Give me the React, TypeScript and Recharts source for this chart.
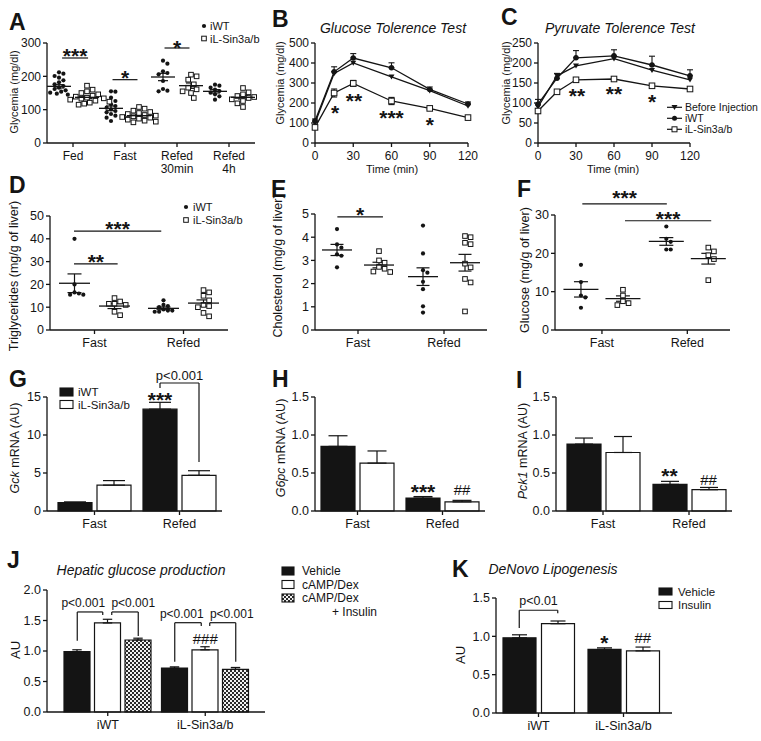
import React from "react";
import {
  Bar,
  ComposedChart,
  ErrorBar,
  Line,
  ReferenceDot,
  ReferenceLine,
  Scatter,
  XAxis,
  YAxis,
} from "recharts";

const W = 761;
const H = 741;
const FONT = "Arial, 'Liberation Sans', Helvetica, sans-serif";
const INK = "#141414";
const YW = 40;
const XH = 34;

// ---------- A: glycemia by feeding state (mg/dl), one value per mouse ----------
const glyStates = ["Fed", "Fast", "Refed\n30min", "Refed\n4h"];
const glyWT = [
  [212, 208, 201, 196, 188, 182, 176, 171, 166, 162, 158, 154, 151, 148, 145],
  [155, 154, 136, 126, 116, 111, 106, 101, 96, 92, 87, 82, 76, 66],
  [247, 238, 215, 210, 206, 186, 162, 157, 155],
  [175, 172, 166, 160, 156, 151, 146, 140, 130],
];
const glyKO = [
  [172, 160, 155, 150, 146, 142, 139, 136, 133, 130, 127, 124, 121, 118, 115, 134],
  [108, 103, 97, 93, 90, 87, 84, 82, 80, 78, 76, 73, 70, 67, 64, 62],
  [205, 200, 190, 176, 166, 161, 155, 150, 135],
  [165, 152, 146, 141, 138, 135, 131, 126, 119, 108],
];
const glyWTMean = [170, 104, 198, 155];
const glyWTSem = [5, 7, 11, 5];
const glyKOMean = [137, 82, 172, 137];
const glyKOSem = [4, 3, 8, 5];

// ---------- B / C: tolerance tests ----------
const minutes = [0, 15, 30, 60, 90, 120];
const gttBefore = [100, 348, 400, 331, 262, 185];
const gttWT = [110, 356, 425, 376, 268, 195];
const gttWTErr = [10, 25, 22, 25, 12, 10];
const gttKO = [78, 250, 298, 210, 173, 127];
const gttKOErr = [8, 20, 15, 18, 6, 5];

const pttBefore = [90, 168, 193, 211, 182, 158];
const pttWT = [97, 162, 213, 218, 195, 168];
const pttWTErr = [12, 12, 18, 15, 22, 15];
const pttKO = [80, 128, 158, 160, 143, 135];
const pttKOErr = [6, 5, 5, 3, 3, 3];

// ---------- D / E / F: liver metabolites ----------
const feedStates = ["Fast", "Refed"];
const tgWT = [[40, 20, 16.5, 16, 15.5, 15.5], [13, 11, 10.5, 10, 9, 8.5, 8, 8, 8.5]];
const tgKO = [[14, 12.5, 11.5, 11, 11.5, 8, 6.5], [17.5, 16.5, 15, 13, 11, 10.5, 10, 7.5, 6]];
const tgWTMean = [20.5, 9.5];
const tgWTSem = [4.1, 0.6];
const tgKOMean = [10.5, 11.8];
const tgKOSem = [1.1, 1.4];

const cholWT = [[4.35, 3.69, 3.55, 3.26, 3.2, 2.7], [4.5, 3.3, 2.58, 2.47, 2.08, 1.76, 1.02, 0.75]];
const cholKO = [[3.4, 3.0, 2.9, 2.64, 2.52, 2.5, 2.72], [4.05, 4.0, 3.76, 3.7, 2.86, 2.7, 2.2, 2.05, 0.8]];
const cholWTMean = [3.45, 2.3];
const cholWTSem = [0.24, 0.38];
const cholKOMean = [2.8, 2.9];
const cholKOSem = [0.12, 0.36];

const glcWT = [[17, 12.5, 9, 8.5, 5.8], [27, 23.8, 23, 21, 21]];
const glcKO = [[10.5, 9, 7.5, 7, 6.5], [21.5, 20.5, 19.5, 18.5, 13]];
const glcWTMean = [10.6, 23.1];
const glcWTSem = [2, 1];
const glcKOMean = [8.2, 18.6];
const glcKOSem = [0.7, 1.4];

// ---------- G / H / I: mRNA (AU) ----------
const gckWT = [1.1, 13.4];
const gckWTErr = [0.1, 0.9];
const gckKO = [3.4, 4.7];
const gckKOErr = [0.6, 0.6];

const g6pcWT = [0.85, 0.17];
const g6pcWTErr = [0.14, 0.02];
const g6pcKO = [0.63, 0.12];
const g6pcKOErr = [0.16, 0.02];

const pck1WT = [0.88, 0.35];
const pck1WTErr = [0.08, 0.04];
const pck1KO = [0.77, 0.28];
const pck1KOErr = [0.21, 0.03];

// ---------- J / K ----------
const genotypes = ["iWT", "iL-Sin3a/b"];
const hgpVehicle = [0.99, 0.72];
const hgpVehicleErr = [0.03, 0.02];
const hgpCamp = [1.46, 1.02];
const hgpCampErr = [0.06, 0.05];
const hgpCampIns = [1.18, 0.7];
const hgpCampInsErr = [0.03, 0.03];

const dnlVehicle = [0.98, 0.83];
const dnlVehicleErr = [0.04, 0.02];
const dnlInsulin = [1.165, 0.81];
const dnlInsulinErr = [0.035, 0.05];

// ---------------------------------------------------------------------------

type Box = { x0: number; x1: number; y0: number; y1: number };
type Note = { x: number | string; dx?: number; y: number; text: string; fs: number; kind: "star" | "hash" | "p" };
type Pad = { left: number; right: number };
// bracket inside one category: points are [pixel offset from the group centre, value]
type Bracket = { cat: string; pts: [number, number][] };

const layer: React.CSSProperties = { position: "absolute", left: 0, top: 0 };

const frame = (b: Box) => ({
  top: b.y0,
  left: b.x0 - YW,
  right: W - b.x1,
  bottom: H - b.y1 - XH,
});

const axisLine = { stroke: INK, strokeWidth: 1.3 };
const tickFont = (fs: number) => ({ fill: INK, fontSize: fs, fontFamily: FONT });
const oneDec = (v: number) => v.toFixed(1);
const STAR = 21;

const dotMark = (cx: number, cy: number, k?: React.Key) => (
  <circle key={k} cx={cx} cy={cy} r={2.1} fill={INK} />
);
const squareMark = (cx: number, cy: number, k?: React.Key, s = 4.6) => (
  <rect key={k} x={cx - s / 2} y={cy - s / 2} width={s} height={s} fill="#fff" stroke={INK} strokeWidth={1} />
);
const triMark = (cx: number, cy: number, k?: React.Key) => (
  <path key={k} d={`M${cx - 3},${cy - 2.2}L${cx + 3},${cy - 2.2}L${cx},${cy + 2.8}Z`} fill={INK} />
);

// beeswarm spread so overlapping points sit side by side
function swarm(vals: number[], cx: number, pxX: number, pxY: number, gap: number) {
  const order = vals.map((_, i) => i).sort((a, b) => vals[b] - vals[a]);
  const placed: { dx: number; py: number }[] = [];
  const out: { x: number; y: number }[] = [];
  order.forEach((i) => {
    const py = vals[i] * pxY;
    let dx = 0;
    for (let k = 0; k < 60; k++) {
      const c = k === 0 ? 0 : (k % 2 === 1 ? 1 : -1) * Math.ceil(k / 2) * (gap / 2);
      if (placed.every((p) => Math.hypot(p.dx - c, p.py - py) >= gap)) {
        dx = c;
        break;
      }
    }
    placed.push({ dx, py });
    out.push({ x: cx + dx / pxX, y: vals[i] });
  });
  return out;
}

function CatTick(props: any) {
  const { x, y, payload, labels, fs } = props;
  const label: string =
    typeof payload.value === "number" ? labels[Math.floor(payload.value)] : String(payload.value);
  return (
    <text x={x} y={y} textAnchor="middle" fontSize={fs} fontFamily={FONT} fill={INK}>
      {label.split("\n").map((l, i) => (
        <tspan key={i} x={x} dy={i === 0 ? "0.71em" : "1.12em"}>
          {l}
        </tspan>
      ))}
    </text>
  );
}

const noteDy = { star: 0.57, hash: 0.35, p: 0.36 };
const noteShape = (n: Note) => (s: any) => (
  <text
    x={s.cx + (n.dx ?? 0)}
    y={s.cy + noteDy[n.kind] * n.fs}
    textAnchor="middle"
    fontSize={n.fs}
    fontFamily={FONT}
    fontWeight={n.kind === "star" ? "bold" : "normal"}
    fill={INK}
  >
    {n.text}
  </text>
);

function notes(list: Note[]) {
  return list.map((n, i) => (
    <ReferenceDot key={`n${i}`} x={n.x} y={n.y} r={0} ifOverflow="visible" shape={noteShape(n)} />
  ));
}

function hLines(list: { x1: number; x2: number; y: number }[]) {
  return list.map((s, i) => (
    <ReferenceLine
      key={`h${i}`}
      segment={[{ x: s.x1, y: s.y }, { x: s.x2, y: s.y }]}
      stroke={INK}
      strokeWidth={1.2}
      ifOverflow="visible"
    />
  ));
}

function brackets(list: Bracket[]) {
  const out: React.ReactNode[] = [];
  list.forEach((b, i) =>
    b.pts.slice(1).forEach((p, j) => {
      const a = b.pts[j];
      out.push(
        <ReferenceLine
          key={`b${i}-${j}`}
          segment={[{ x: b.cat, y: a[1] }, { x: b.cat, y: p[1] }]}
          ifOverflow="visible"
          shape={(s: any) => (
            <line x1={s.x1 + a[0]} y1={s.y1} x2={s.x2 + p[0]} y2={s.y2} stroke={INK} strokeWidth={1.2} />
          )}
        />
      );
    })
  );
  return out;
}

// ---------- dot plot (A, D, E, F) ----------
type Sig = { x1: number; x2: number; y: number; text: string; ty: number };

function DotPanel(p: {
  box: Box;
  cats: string[];
  wt: number[][];
  ko: number[][];
  wtMean: number[];
  wtSem: number[];
  koMean: number[];
  koSem: number[];
  yMax: number;
  yTicks: number[];
  xDomain: [number, number];
  offsetPx: number;
  meanHalf: number;
  capHalf: number;
  sig: Sig[];
  fs: number;
}) {
  const { box, xDomain, yMax } = p;
  const pxX = (box.x1 - box.x0) / (xDomain[1] - xDomain[0]);
  const pxY = (box.y1 - box.y0) / yMax;
  const off = p.offsetPx / pxX;
  const wtPts = p.wt.flatMap((v, i) => swarm(v, i + 0.5 - off, pxX, pxY, 4.4));
  const koPts = p.ko.flatMap((v, i) => swarm(v, i + 0.5 + off, pxX, pxY, 5.6));
  const means = [
    ...p.wtMean.map((m, i) => ({ x: i + 0.5 - off, y: m, e: p.wtSem[i] })),
    ...p.koMean.map((m, i) => ({ x: i + 0.5 + off, y: m, e: p.koSem[i] })),
  ];
  const sigText: Note[] = p.sig.map((s) => ({
    x: (s.x1 + s.x2) / 2,
    y: s.ty,
    text: s.text,
    fs: STAR,
    kind: "star",
  }));
  return (
    <div style={layer}>
      <ComposedChart width={W} height={H} margin={frame(box)}>
        <XAxis
          type="number"
          dataKey="x"
          domain={xDomain}
          ticks={p.cats.map((_, i) => i + 0.5)}
          interval={0}
          height={XH}
          axisLine={axisLine}
          tickLine={axisLine}
          tickSize={4}
          tickMargin={4}
          tick={<CatTick labels={p.cats} fs={p.fs} />}
        />
        <YAxis
          type="number"
          dataKey="y"
          domain={[0, yMax]}
          ticks={p.yTicks}
          interval={0}
          width={YW}
          axisLine={axisLine}
          tickLine={axisLine}
          tickSize={4}
          tickMargin={2}
          tick={tickFont(p.fs)}
        />
        <Scatter data={wtPts} shape={(s: any) => dotMark(s.cx, s.cy)} isAnimationActive={false} />
        <Scatter data={koPts} shape={(s: any) => squareMark(s.cx, s.cy)} isAnimationActive={false} />
        <Scatter
          data={means}
          isAnimationActive={false}
          shape={(s: any) => (
            <line x1={s.cx - p.meanHalf} x2={s.cx + p.meanHalf} y1={s.cy} y2={s.cy} stroke={INK} strokeWidth={1.3} />
          )}
        >
          <ErrorBar dataKey="e" direction="y" width={p.capHalf} stroke={INK} strokeWidth={1.2} />
        </Scatter>
        {hLines(p.sig)}
        {notes(sigText)}
      </ComposedChart>
    </div>
  );
}

// ---------- time course (B, C) ----------
function CurvePanel(p: {
  box: Box;
  before: number[];
  wt: number[];
  wtErr: number[];
  ko: number[];
  koErr: number[];
  yMax: number;
  yTicks: number[];
  stars: Note[];
}) {
  const rows = minutes.map((t, i) => ({
    t,
    bi: p.before[i],
    wt: p.wt[i],
    wtE: [0, p.wtErr[i]],
    ko: p.ko[i],
    koE: p.koErr[i],
  }));
  return (
    <div style={layer}>
      <ComposedChart width={W} height={H} margin={frame(p.box)} data={rows}>
        <XAxis
          type="number"
          dataKey="t"
          domain={[0, 120]}
          ticks={[0, 30, 60, 90, 120]}
          interval={0}
          height={XH}
          axisLine={axisLine}
          tickLine={axisLine}
          tickSize={4}
          tickMargin={4}
          tick={tickFont(12)}
        />
        <YAxis
          type="number"
          domain={[0, p.yMax]}
          ticks={p.yTicks}
          interval={0}
          width={YW}
          axisLine={axisLine}
          tickLine={axisLine}
          tickSize={4}
          tickMargin={2}
          tick={tickFont(12)}
        />
        <Line
          dataKey="bi"
          stroke={INK}
          strokeWidth={1.3}
          dot={(d: any) => triMark(d.cx, d.cy, d.index)}
          activeDot={false}
          isAnimationActive={false}
        />
        <Line
          dataKey="wt"
          stroke={INK}
          strokeWidth={1.3}
          dot={(d: any) => <circle key={d.index} cx={d.cx} cy={d.cy} r={2.7} fill={INK} />}
          activeDot={false}
          isAnimationActive={false}
        >
          <ErrorBar dataKey="wtE" width={3} stroke={INK} strokeWidth={1.1} />
        </Line>
        <Line
          dataKey="ko"
          stroke={INK}
          strokeWidth={1.3}
          dot={(d: any) => squareMark(d.cx, d.cy, d.index, 5.6)}
          activeDot={false}
          isAnimationActive={false}
        >
          <ErrorBar dataKey="koE" width={3} stroke={INK} strokeWidth={1.1} />
        </Line>
        {notes(p.stars)}
      </ComposedChart>
    </div>
  );
}

// ---------- bar charts (G–K) ----------
type BarSeries = { key: string; values: number[]; errs: number[]; fill: string };

// pixel offset of bar k from its group centre
const barOff = (nSeries: number, barW: number, gap: number) => (k: number, extra = 0) =>
  (k - (nSeries - 1) / 2) * (barW + gap) + extra;

function BarPanel(p: {
  box: Box;
  cats: string[];
  series: BarSeries[];
  yMax: number;
  yTicks: number[];
  barW: number;
  gap: number;
  pad: Pad;
  capHalf: number;
  lines: Bracket[];
  texts: Note[];
  fs: number;
  defs?: React.ReactNode;
}) {
  const rows = p.cats.map((c, i) => {
    const r: Record<string, any> = { cat: c };
    p.series.forEach((s) => {
      r[s.key] = s.values[i];
      r[`${s.key}E`] = [0, s.errs[i]];
    });
    return r;
  });
  return (
    <div style={layer}>
      <ComposedChart width={W} height={H} margin={frame(p.box)} data={rows} barGap={p.gap}>
        {p.defs}
        <XAxis
          dataKey="cat"
          padding={p.pad}
          interval={0}
          height={XH}
          axisLine={axisLine}
          tickLine={axisLine}
          tickSize={4}
          tickMargin={4}
          tick={<CatTick fs={p.fs} />}
        />
        <YAxis
          type="number"
          domain={[0, p.yMax]}
          ticks={p.yTicks}
          interval={0}
          width={YW}
          axisLine={axisLine}
          tickLine={axisLine}
          tickSize={4}
          tickMargin={2}
          tick={tickFont(p.fs)}
          tickFormatter={p.yMax < 5 ? oneDec : undefined}
        />
        {p.series.map((s) => (
          <Bar
            key={s.key}
            dataKey={s.key}
            fill={s.fill}
            stroke={INK}
            strokeWidth={1.2}
            barSize={p.barW}
            isAnimationActive={false}
          >
            <ErrorBar dataKey={`${s.key}E`} width={p.capHalf} stroke={INK} strokeWidth={1.2} />
          </Bar>
        ))}
        {brackets(p.lines)}
        {notes(p.texts)}
      </ComposedChart>
    </div>
  );
}

// ---------- panel geometry ----------
const boxA: Box = { x0: 47, x1: 255, y0: 43, y1: 143 };
const boxB: Box = { x0: 315, x1: 468, y0: 43, y1: 143 };
const boxC: Box = { x0: 538, x1: 690, y0: 43, y1: 143 };
const boxD: Box = { x0: 50, x1: 228, y0: 216, y1: 330 };
const boxE: Box = { x0: 315, x1: 487, y0: 214, y1: 330 };
const boxF: Box = { x0: 555, x1: 730, y0: 215, y1: 330 };
const boxG: Box = { x0: 47, x1: 222, y0: 397, y1: 511 };
const boxH: Box = { x0: 315, x1: 485, y0: 397, y1: 511 };
const boxI: Box = { x0: 556, x1: 732, y0: 397, y1: 511 };
const boxJ: Box = { x0: 47, x1: 265, y0: 590, y1: 712 };
const boxK: Box = { x0: 496, x1: 672, y0: 598, y1: 713 };

const padG = { left: 5, right: 0 };
const padH = { left: 0, right: 0 };
const padI = { left: 4, right: 0 };
const padJ = { left: 12, right: 11 };
const padK = { left: 0, right: 6 };

const off2 = barOff(2, 34, 5);
const offJ = barOff(3, 26, 4.5);
const offK = barOff(2, 33, 5.5);

const sigA: Sig[] = [
  { x1: 0.29, x2: 0.79, y: 255, text: "***", ty: 276 },
  { x1: 1.26, x2: 1.74, y: 190, text: "*", ty: 211 },
  { x1: 2.26, x2: 2.74, y: 285, text: "*", ty: 301 },
];
const sigD: Sig[] = [
  { x1: 0.27, x2: 1.25, y: 43.4, text: "***", ty: 46.5 },
  { x1: 0.27, x2: 0.76, y: 29, text: "**", ty: 32 },
];
const sigE: Sig[] = [{ x1: 0.26, x2: 0.79, y: 4.88, text: "*", ty: 5.17 }];
const sigF: Sig[] = [
  { x1: 0.27, x2: 1.26, y: 32.9, text: "***", ty: 35.8 },
  { x1: 0.77, x2: 1.78, y: 28.5, text: "***", ty: 30.3 },
];

const starsB: Note[] = [
  { x: 15.7, y: 174, text: "*", fs: STAR, kind: "star" },
  { x: 30.6, y: 234, text: "**", fs: STAR, kind: "star" },
  { x: 60, y: 149, text: "***", fs: STAR, kind: "star" },
  { x: 90, y: 116, text: "*", fs: STAR, kind: "star" },
];
const starsC: Note[] = [
  { x: 30.8, y: 131, text: "**", fs: STAR, kind: "star" },
  { x: 60, y: 134, text: "**", fs: STAR, kind: "star" },
  { x: 90, y: 116, text: "*", fs: STAR, kind: "star" },
];

const linesG: Bracket[] = [
  { cat: "Refed", pts: [[off2(0), 16.2], [off2(0), 16.84], [off2(1), 16.84], [off2(1), 6.45]] },
];
const textsG: Note[] = [
  { x: "Refed", dx: 0, y: 17.8, text: "p<0.001", fs: 13, kind: "p" },
  { x: "Refed", dx: off2(0), y: 15.2, text: "***", fs: STAR, kind: "star" },
];
const textsH: Note[] = [
  { x: "Refed", dx: off2(0), y: 0.31, text: "***", fs: STAR, kind: "star" },
  { x: "Refed", dx: off2(1), y: 0.276, text: "##", fs: 15, kind: "hash" },
];
const textsI: Note[] = [
  { x: "Refed", dx: off2(0), y: 0.53, text: "**", fs: STAR, kind: "star" },
  { x: "Refed", dx: off2(1), y: 0.417, text: "##", fs: 15, kind: "hash" },
];
const linesJ: Bracket[] = [
  { cat: "iWT", pts: [[offJ(0), 1.17], [offJ(0), 1.64], [offJ(1, -5), 1.64], [offJ(1, -5), 1.59]] },
  { cat: "iWT", pts: [[offJ(1, 4), 1.59], [offJ(1, 4), 1.64], [offJ(2), 1.64], [offJ(2), 1.245]] },
  { cat: "iL-Sin3a/b", pts: [[offJ(0), 0.825], [offJ(0), 1.464], [offJ(1, -4), 1.464], [offJ(1, -4), 1.41]] },
  { cat: "iL-Sin3a/b", pts: [[offJ(1, 4.5), 1.41], [offJ(1, 4.5), 1.464], [offJ(2), 1.464], [offJ(2), 0.825]] },
];
const textsJ: Note[] = [
  { x: "iWT", dx: offJ(0, 6), y: 1.797, text: "p<0.001", fs: 12, kind: "p" },
  { x: "iWT", dx: offJ(2, -5), y: 1.797, text: "p<0.001", fs: 12, kind: "p" },
  { x: "iL-Sin3a/b", dx: offJ(0, 7), y: 1.61, text: "p<0.001", fs: 12, kind: "p" },
  { x: "iL-Sin3a/b", dx: offJ(2, -4), y: 1.61, text: "p<0.001", fs: 12, kind: "p" },
  { x: "iL-Sin3a/b", dx: offJ(1), y: 1.2, text: "###", fs: 15, kind: "hash" },
];
const linesK: Bracket[] = [
  { cat: "iWT", pts: [[offK(0), 1.11], [offK(0), 1.34], [offK(1), 1.34], [offK(1), 1.3]] },
];
const textsK: Note[] = [
  { x: "iWT", dx: 0, y: 1.47, text: "p<0.01", fs: 12.5, kind: "p" },
  { x: "iL-Sin3a/b", dx: offK(0), y: 0.975, text: "*", fs: STAR, kind: "star" },
  { x: "iL-Sin3a/b", dx: offK(1), y: 0.98, text: "##", fs: 15, kind: "hash" },
];

const checker = (
  <defs>
    <pattern id="chk" width="4" height="4" patternUnits="userSpaceOnUse">
      <rect width="4" height="4" fill="#f2f2f2" />
      <rect width="2" height="2" fill="#2a2a2a" />
      <rect x="2" y="2" width="2" height="2" fill="#2a2a2a" />
    </pattern>
  </defs>
);

// ---------- static text: letters, titles, axis titles, legends ----------
const letters: [string, number, number][] = [
  ["A", 9, 30], ["B", 272, 27], ["C", 501, 25], ["D", 9, 193], ["E", 271, 197], ["F", 517, 197],
  ["G", 9, 387], ["H", 272, 387], ["I", 516, 388], ["J", 7, 568], ["K", 452, 577],
];
const titles: [string, number, number][] = [
  ["Glucose Tolerence Test", 393, 33],
  ["Pyruvate Tolerence Test", 620, 33],
  ["Hepatic glucose production", 141, 575],
  ["DeNovo Lipogenesis", 553, 574],
];
const yTitles: { parts: [string, boolean][]; x: number; y: number; fs: number }[] = [
  { parts: [["Glycemia (mg/dl)", false]], x: 13.5, y: 92, fs: 11 },
  { parts: [["Glycemia (mg/dl)", false]], x: 279.5, y: 83, fs: 11 },
  { parts: [["Glycemia (mg/dl)", false]], x: 506, y: 83, fs: 11 },
  { parts: [["Triglycerides (mg/g of liver)", false]], x: 13.5, y: 276, fs: 12.5 },
  { parts: [["Cholesterol (mg/g of liver)", false]], x: 277.5, y: 266, fs: 12.5 },
  { parts: [["Glucose (mg/g of liver)", false]], x: 524.5, y: 270, fs: 12.5 },
  { parts: [["Gck", true], [" mRNA (AU)", false]], x: 15, y: 448, fs: 12.5 },
  { parts: [["G6pc", true], [" mRNA (AU)", false]], x: 281, y: 448, fs: 12.5 },
  { parts: [["Pck1", true], [" mRNA (AU)", false]], x: 523, y: 451, fs: 12.5 },
  { parts: [["AU", false]], x: 15, y: 650, fs: 13 },
  { parts: [["AU", false]], x: 460, y: 655, fs: 13 },
];

function Txt(p: { x: number; y: number; fs: number; children: React.ReactNode; italic?: boolean; bold?: boolean; anchor?: string }) {
  return (
    <text
      x={p.x}
      y={p.y}
      fontSize={p.fs}
      fontFamily={FONT}
      fill={INK}
      fontStyle={p.italic ? "italic" : "normal"}
      fontWeight={p.bold ? "bold" : "normal"}
      textAnchor={p.anchor ?? "start"}
    >
      {p.children}
    </text>
  );
}

function BoxKey(p: { x: number; y: number; w: number; h: number; fill: string; label: string; fs: number; tx: number }) {
  return (
    <g>
      <rect x={p.x} y={p.y} width={p.w} height={p.h} fill={p.fill} stroke={INK} strokeWidth={1.1} />
      <Txt x={p.tx} y={p.y + p.h / 2 + 0.36 * p.fs} fs={p.fs}>
        {p.label}
      </Txt>
    </g>
  );
}

function Overlay() {
  return (
    <svg width={W} height={H} style={layer}>
      {letters.map(([t, x, y]) => (
        <Txt key={t} x={x} y={y} fs={23} bold>
          {t}
        </Txt>
      ))}
      {titles.map(([t, x, y]) => (
        <Txt key={t} x={x} y={y} fs={14} italic anchor="middle">
          {t}
        </Txt>
      ))}
      {yTitles.map((t, i) => (
        <text
          key={i}
          x={t.x}
          y={t.y}
          transform={`rotate(-90 ${t.x} ${t.y})`}
          textAnchor="middle"
          dominantBaseline="central"
          fontSize={t.fs}
          fontFamily={FONT}
          fill={INK}
        >
          {t.parts.map(([s, it], j) => (
            <tspan key={j} fontStyle={it ? "italic" : "normal"}>
              {s}
            </tspan>
          ))}
        </text>
      ))}
      <Txt x={392} y={173} fs={11} anchor="middle">Time (min)</Txt>
      <Txt x={613} y={173} fs={11} anchor="middle">Time (min)</Txt>

      {/* A legend */}
      {dotMark(204, 26)}
      <Txt x={210} y={30} fs={11}>iWT</Txt>
      {squareMark(204, 38.5)}
      <Txt x={210} y={42.5} fs={11}>iL-Sin3a/b</Txt>

      {/* C legend */}
      {[107.3, 118.3, 129.3].map((y) => (
        <line key={y} x1={667} x2={682} y1={y} y2={y} stroke={INK} strokeWidth={1.2} />
      ))}
      {triMark(674.5, 107.3)}
      <circle cx={674.5} cy={118.3} r={2.5} fill={INK} />
      {squareMark(674.5, 129.3, undefined, 5)}
      <Txt x={685} y={111} fs={10.5}>Before Injection</Txt>
      <Txt x={685} y={122} fs={10.5}>iWT</Txt>
      <Txt x={685} y={133} fs={10.5}>iL-Sin3a/b</Txt>

      {/* D legend */}
      {dotMark(186, 207)}
      <Txt x={193} y={211} fs={11}>iWT</Txt>
      {squareMark(186, 220)}
      <Txt x={193} y={224} fs={11}>iL-Sin3a/b</Txt>

      {/* G legend */}
      <BoxKey x={60} y={388} w={13} h={8} fill={INK} label="iWT" fs={11.5} tx={78} />
      <BoxKey x={60} y={400.5} w={13} h={8} fill="#fff" label="iL-Sin3a/b" fs={11.5} tx={78} />

      {/* J legend */}
      <BoxKey x={282} y={567} w={12} h={8} fill={INK} label="Vehicle" fs={12} tx={302} />
      <BoxKey x={282} y={580.5} w={12} h={8} fill="#fff" label="cAMP/Dex" fs={12} tx={302} />
      <BoxKey x={282} y={594} w={12} h={8} fill="url(#chk)" label="cAMP/Dex" fs={12} tx={302} />
      <Txt x={332} y={616} fs={12}>+ Insulin</Txt>

      {/* K legend */}
      <BoxKey x={659} y={588} w={13} h={7} fill={INK} label="Vehicle" fs={11.5} tx={678} />
      <BoxKey x={659} y={601.5} w={13} h={7} fill="#fff" label="Insulin" fs={11.5} tx={678} />
    </svg>
  );
}

export default function App() {
  return (
    <div style={{ position: "absolute", left: 0, top: 0, width: W, height: H, background: "#fff", overflow: "hidden" }}>
      <DotPanel
        box={boxA}
        cats={glyStates}
        wt={glyWT}
        ko={glyKO}
        wtMean={glyWTMean}
        wtSem={glyWTSem}
        koMean={glyKOMean}
        koSem={glyKOSem}
        yMax={300}
        yTicks={[0, 100, 200, 300]}
        xDomain={[0, 4]}
        offsetPx={14}
        meanHalf={12}
        capHalf={5}
        sig={sigA}
        fs={12}
      />
      <CurvePanel
        box={boxB}
        before={gttBefore}
        wt={gttWT}
        wtErr={gttWTErr}
        ko={gttKO}
        koErr={gttKOErr}
        yMax={500}
        yTicks={[0, 100, 200, 300, 400, 500]}
        stars={starsB}
      />
      <CurvePanel
        box={boxC}
        before={pttBefore}
        wt={pttWT}
        wtErr={pttWTErr}
        ko={pttKO}
        koErr={pttKOErr}
        yMax={250}
        yTicks={[0, 50, 100, 150, 200, 250]}
        stars={starsC}
      />
      <DotPanel
        box={boxD}
        cats={feedStates}
        wt={tgWT}
        ko={tgKO}
        wtMean={tgWTMean}
        wtSem={tgWTSem}
        koMean={tgKOMean}
        koSem={tgKOSem}
        yMax={50}
        yTicks={[0, 10, 20, 30, 40, 50]}
        xDomain={[0, 2]}
        offsetPx={20}
        meanHalf={15.5}
        capHalf={7}
        sig={sigD}
        fs={12.5}
      />
      <DotPanel
        box={boxE}
        cats={feedStates}
        wt={cholWT}
        ko={cholKO}
        wtMean={cholWTMean}
        wtSem={cholWTSem}
        koMean={cholKOMean}
        koSem={cholKOSem}
        yMax={5}
        yTicks={[0, 1, 2, 3, 4, 5]}
        xDomain={[0, 2]}
        offsetPx={21}
        meanHalf={15}
        capHalf={6.5}
        sig={sigE}
        fs={12.5}
      />
      <DotPanel
        box={boxF}
        cats={feedStates}
        wt={glcWT}
        ko={glcKO}
        wtMean={glcWTMean}
        wtSem={glcWTSem}
        koMean={glcKOMean}
        koSem={glcKOSem}
        yMax={30}
        yTicks={[0, 10, 20, 30]}
        xDomain={[-0.05, 2]}
        offsetPx={21}
        meanHalf={17.5}
        capHalf={7}
        sig={sigF}
        fs={12.5}
      />
      <BarPanel
        box={boxG}
        cats={feedStates}
        series={[
          { key: "wt", values: gckWT, errs: gckWTErr, fill: INK },
          { key: "ko", values: gckKO, errs: gckKOErr, fill: "#fff" },
        ]}
        yMax={15}
        yTicks={[0, 5, 10, 15]}
        barW={34}
        gap={5}
        pad={padG}
        capHalf={11}
        lines={linesG}
        texts={textsG}
        fs={12.5}
      />
      <BarPanel
        box={boxH}
        cats={feedStates}
        series={[
          { key: "wt", values: g6pcWT, errs: g6pcWTErr, fill: INK },
          { key: "ko", values: g6pcKO, errs: g6pcKOErr, fill: "#fff" },
        ]}
        yMax={1.5}
        yTicks={[0, 0.5, 1, 1.5]}
        barW={34}
        gap={5}
        pad={padH}
        capHalf={9.5}
        lines={[]}
        texts={textsH}
        fs={12.5}
      />
      <BarPanel
        box={boxI}
        cats={feedStates}
        series={[
          { key: "wt", values: pck1WT, errs: pck1WTErr, fill: INK },
          { key: "ko", values: pck1KO, errs: pck1KOErr, fill: "#fff" },
        ]}
        yMax={1.5}
        yTicks={[0, 0.5, 1, 1.5]}
        barW={34}
        gap={5}
        pad={padI}
        capHalf={9}
        lines={[]}
        texts={textsI}
        fs={12.5}
      />
      <BarPanel
        box={boxJ}
        cats={genotypes}
        series={[
          { key: "veh", values: hgpVehicle, errs: hgpVehicleErr, fill: INK },
          { key: "camp", values: hgpCamp, errs: hgpCampErr, fill: "#fff" },
          { key: "ins", values: hgpCampIns, errs: hgpCampInsErr, fill: "url(#chk)" },
        ]}
        yMax={2}
        yTicks={[0, 0.5, 1, 1.5, 2]}
        barW={26}
        gap={4.5}
        pad={padJ}
        capHalf={4.7}
        lines={linesJ}
        texts={textsJ}
        fs={12.5}
        defs={checker}
      />
      <BarPanel
        box={boxK}
        cats={genotypes}
        series={[
          { key: "veh", values: dnlVehicle, errs: dnlVehicleErr, fill: INK },
          { key: "ins", values: dnlInsulin, errs: dnlInsulinErr, fill: "#fff" },
        ]}
        yMax={1.5}
        yTicks={[0, 0.5, 1, 1.5]}
        barW={33}
        gap={5.5}
        pad={padK}
        capHalf={7.5}
        lines={linesK}
        texts={textsK}
        fs={12.5}
      />
      <Overlay />
    </div>
  );
}
